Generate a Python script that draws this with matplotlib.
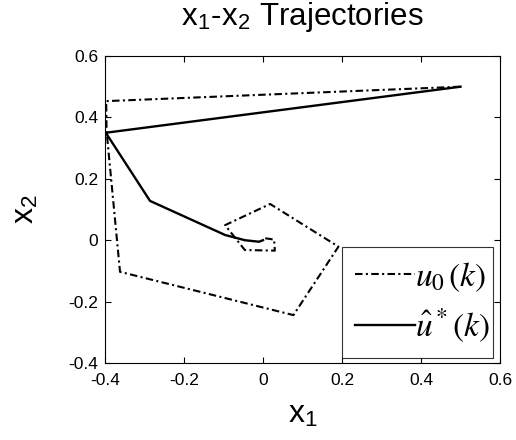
import matplotlib
matplotlib.use("Agg")
import matplotlib.pyplot as plt

plt.rcParams["font.family"] = ["Liberation Sans", "DejaVu Sans"]
plt.rcParams["mathtext.fontset"] = "stix"

# Open-loop input trajectory u0(k)
u0_x1 = [0.5, -0.397, -0.396, -0.362, 0.077, 0.191, 0.018, -0.096, -0.046, 0.030, 0.028, 0.002, 0.0]
u0_x2 = [0.5, 0.453, 0.355, -0.103, -0.244, -0.021, 0.118, 0.049, -0.032, -0.034, 0.002, 0.007, 0.0]

# Optimal input trajectory u*(k)
us_x1 = [0.5, -0.398, -0.286, -0.096, -0.046, -0.010, 0.0]
us_x2 = [0.5, 0.350, 0.128, 0.017, 0.000, -0.005, 0.0]

x_ticks = [-0.4, -0.2, 0, 0.2, 0.4, 0.6]
y_ticks = [-0.4, -0.2, 0, 0.2, 0.4, 0.6]
x_tick_labels = ["-0.4", "-0.2", "0", "0.2", "0.4", "0.6"]
y_tick_labels = ["-0.4", "-0.2", "0", "0.2", "0.4", "0.6"]

fig = plt.figure(figsize=(5.16, 4.4), dpi=100)
ax = fig.add_axes([105 / 516, 1 - 363 / 440, 395 / 516, 307 / 440])

dashdot = (0, (3.6, 1.6, 1.0, 1.6))
ax.plot(u0_x1, u0_x2, color="black", lw=1.5, linestyle=dashdot, label=r"$u_0\,(k)$")
ax.plot(us_x1, us_x2, color="black", lw=1.7, linestyle="-", label=r"$\hat{u}^*(k)$")

ax.set_xlim(-0.4, 0.6)
ax.set_ylim(-0.4, 0.6)
ax.set_xticks(x_ticks)
ax.set_xticklabels(x_tick_labels)
ax.set_yticks(y_ticks)
ax.set_yticklabels(y_tick_labels)
ax.tick_params(direction="in", length=4, width=0.8, top=True, right=True,
               labelsize=12.5, colors="black")
ax.tick_params(axis="x", pad=7)
ax.tick_params(axis="y", pad=5)
for s in ax.spines.values():
    s.set_linewidth(0.8)

ax.set_title(r"x$_\mathregular{1}$-x$_\mathregular{2}$ Trajectories", fontsize=22.5, pad=22)
ax.set_xlabel(r"x$_\mathregular{1}$", fontsize=23, labelpad=9)
ax.set_ylabel(r"x$_\mathregular{2}$", fontsize=23, labelpad=20)

leg = ax.legend(loc="lower left", bbox_to_anchor=(0.599, 0.015, 0.384, 0.364),
                mode="expand", fontsize=24, handlelength=1.8, handletextpad=0.0,
                labelspacing=0.4, borderpad=0.4, borderaxespad=0.0,
                fancybox=False, frameon=True)
leg.get_frame().set_edgecolor("black")
leg.get_frame().set_linewidth(0.8)

fig.savefig("out.png", dpi=100)
